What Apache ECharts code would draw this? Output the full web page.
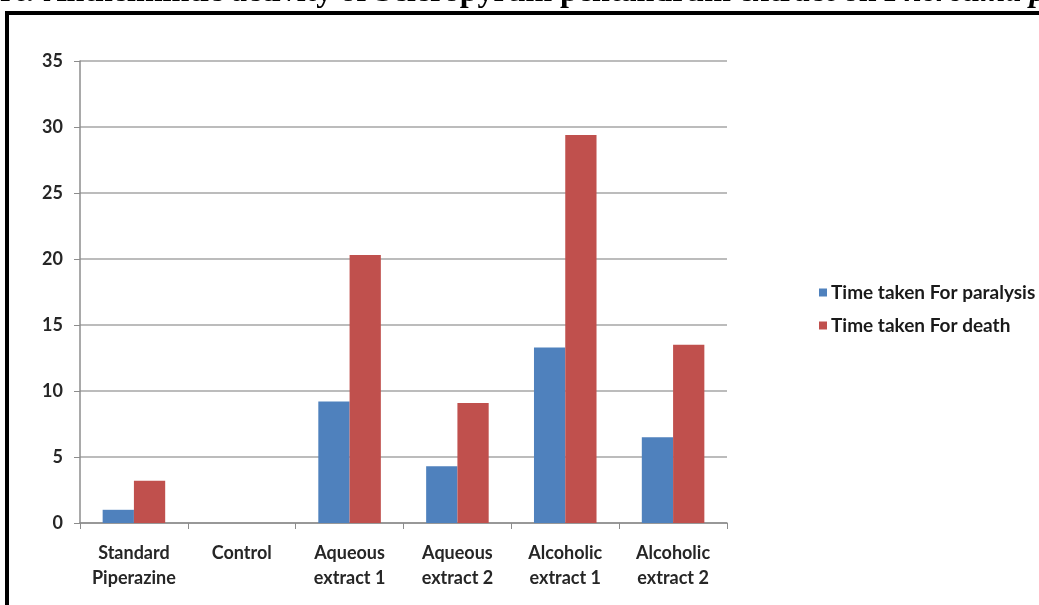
<!DOCTYPE html>
<html>
<head>
<meta charset="UTF-8">
<title>Anthelmintic activity</title>
<script src="https://cdn.jsdelivr.net/npm/echarts@6/dist/echarts.min.js"></script>
<style>
  html, body { margin: 0; padding: 0; background: #fff; }
</style>
</head>
<body>
<div id="main" style="width: 1039px; height: 605px;"></div>
<script type="text/javascript">
// categories and values
var categories = ['Standard\nPiperazine', 'Control', 'Aqueous\nextract 1', 'Aqueous\nextract 2', 'Alcoholic\nextract 1', 'Alcoholic\nextract 2'];
var paralysis = [1.0, 0, 9.2, 4.3, 13.3, 6.5];
var death = [3.2, 0, 20.3, 9.1, 29.4, 13.5];
var yTicks = [0, 5, 10, 15, 20, 25, 30, 35];

var labelFont = 'Lato';
var myChart = echarts.init(document.getElementById('main'));

var option = {
  animation: false,
  backgroundColor: '#ffffff',
  color: ['#4f81bd', '#c0504d'],
  graphic: [
    {
      type: 'text',
      left: -57,
      top: -23,
      style: {
        text: 'Chart: Anthelmintic activity of Scleropyrum pentandrum extract on {i|Pheretima posthuma}',
        font: 'bold 32px "Liberation Serif"',
        fill: '#000',
        rich: { i: { font: 'italic bold 32px "Liberation Serif"', fill: '#000' } }
      }
    },
    {
      type: 'rect',
      shape: { x: 7, y: 13, width: 1200, height: 800 },
      style: { fill: 'none', stroke: '#000', lineWidth: 4 }
    }
  ],
  legend: {
    orient: 'vertical',
    left: 814,
    top: 278,
    itemWidth: 8,
    itemHeight: 8,
    itemGap: 14,
    icon: 'rect',
    textStyle: { fontFamily: labelFont, fontWeight: 'bold', fontSize: 19, color: '#1a1a1a', padding: [0, 0, 0, -1] },
    data: ['Time taken For paralysis', 'Time taken For death']
  },
  grid: { left: 80, right: 312, top: 61, bottom: 82 },
  xAxis: {
    type: 'category',
    data: categories,
    axisLine: { lineStyle: { color: '#8c8c8c', width: 1.5 } },
    axisTick: { show: true, length: 6, lineStyle: { color: '#8c8c8c' } },
    axisLabel: {
      margin: 18,
      interval: 0,
      fontFamily: labelFont,
      fontWeight: 'bold',
      fontSize: 18,
      lineHeight: 25,
      color: '#262626'
    }
  },
  yAxis: {
    type: 'value',
    min: yTicks[0],
    max: yTicks[yTicks.length - 1],
    interval: 5,
    axisLine: { show: true, lineStyle: { color: '#8c8c8c', width: 1.5 } },
    axisTick: { show: true, length: 6, lineStyle: { color: '#8c8c8c' } },
    splitLine: { lineStyle: { color: '#a6a6a6', width: 1.5 } },
    axisLabel: {
      margin: 17,
      fontFamily: labelFont,
      fontWeight: 'bold',
      fontSize: 18,
      color: '#262626'
    }
  },
  series: [
    {
      name: 'Time taken For paralysis',
      type: 'bar',
      data: paralysis,
      barGap: '0%',
      barCategoryGap: '42%'
    },
    {
      name: 'Time taken For death',
      type: 'bar',
      data: death,
      barGap: '0%',
      barCategoryGap: '42%'
    }
  ]
};
myChart.setOption(option);
</script>
</body>
</html>
